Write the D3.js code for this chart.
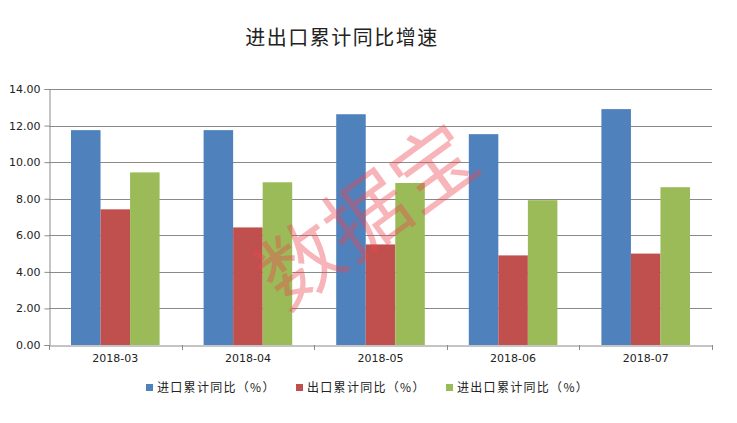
<!DOCTYPE html>
<html><head><meta charset="utf-8">
<script src="https://cdn.jsdelivr.net/npm/d3@7"></script>
<style>body{margin:0;background:#fff}svg{display:block}</style>
</head><body>
<svg id="c" width="737" height="423"></svg>
<script>
const categories = ["2018-03","2018-04","2018-05","2018-06","2018-07"];
const seriesNames = ["进口累计同比（%）","出口累计同比（%）","进出口累计同比（%）"];
const importYoY = [11.75, 11.75, 12.62, 11.53, 12.9];
const exportYoY = [7.42, 6.43, 5.5, 4.9, 5.0];
const totalYoY  = [9.44, 8.9, 8.86, 7.92, 8.63];
const yTicks = [0,2,4,6,8,10,12,14];
const colors = ["#4F81BD","#C0504D","#9BBB59"];
const title = "进出口累计同比增速";

const series = [importYoY, exportYoY, totalYoY];
const svg = d3.select("#c");
const font = "'Noto Sans CJK SC', 'Noto Sans', sans-serif";
const L = 49, R = 712, T = 89, B = 345;

const y = d3.scaleLinear().domain([0,14]).range([B,T]);
const x0 = d3.scaleBand().domain(categories).range([L,R]).padding(0);
const gap = 22;
const x1 = d3.scaleBand().domain(d3.range(series.length)).range([gap, x0.bandwidth()-gap]).padding(0);

// title
svg.append("text").attr("x",342).attr("y",45).attr("text-anchor","middle")
  .attr("font-family",font).attr("font-size",20).attr("letter-spacing",1.5).attr("fill","#222").text(title);

// gridlines
svg.append("g").selectAll("line").data(yTicks.filter(d=>d>0)).join("line")
  .attr("x1",L).attr("x2",R).attr("y1",d=>Math.round(y(d))+0.5).attr("y2",d=>Math.round(y(d))+0.5)
  .attr("stroke","#8a8a8a").attr("stroke-width",1);

// bars
const g = svg.append("g");
categories.forEach((c,i)=>{
  series.forEach((s,j)=>{
    g.append("rect").attr("x",x0(c)+x1(j)).attr("width",x1.bandwidth())
      .attr("y",y(s[i])).attr("height",B-y(s[i])).attr("fill",colors[j]);
  });
});

// y axis
const ya = svg.append("g").attr("transform",`translate(${L+0.5},0)`)
  .call(d3.axisLeft(y).tickValues(yTicks).tickFormat(d3.format(".2f")).tickSize(5).tickPadding(4));
ya.select(".domain").attr("stroke","#8a8a8a");
ya.selectAll(".tick line").attr("stroke","#8a8a8a");
ya.selectAll("text").attr("font-family","'DejaVu Sans', sans-serif").attr("font-size",11).attr("fill","#222");

// x axis
const xa = svg.append("g").attr("transform",`translate(0,${B+0.5})`)
  .call(d3.axisBottom(x0).tickSize(0).tickPadding(9));
xa.select(".domain").attr("stroke","#8a8a8a");
xa.selectAll("text").attr("font-family","'DejaVu Sans', sans-serif").attr("font-size",11).attr("fill","#222");
const bounds = categories.map(c=>x0(c)).concat([R]);
svg.append("g").selectAll("line").data(bounds).join("line")
  .attr("x1",d=>Math.round(d)+0.5).attr("x2",d=>Math.round(d)+0.5).attr("y1",B).attr("y2",B+5)
  .attr("stroke","#8a8a8a");

// watermark
svg.append("text").attr("transform","translate(285,312) rotate(-36)")
  .attr("font-family",font).attr("font-size",82).attr("font-weight",400).attr("fill","rgba(235,70,80,0.4)")
  .text("数据宝");

// legend
const lx = [146,296,446];
seriesNames.forEach((n,j)=>{
  svg.append("rect").attr("x",lx[j]).attr("y",384).attr("width",7).attr("height",7).attr("fill",colors[j]);
  svg.append("text").attr("x",lx[j]+11).attr("y",392).attr("font-family",font)
    .attr("font-size",12).attr("letter-spacing",1.3).attr("fill","#222").text(n);
});
</script>
</body></html>
